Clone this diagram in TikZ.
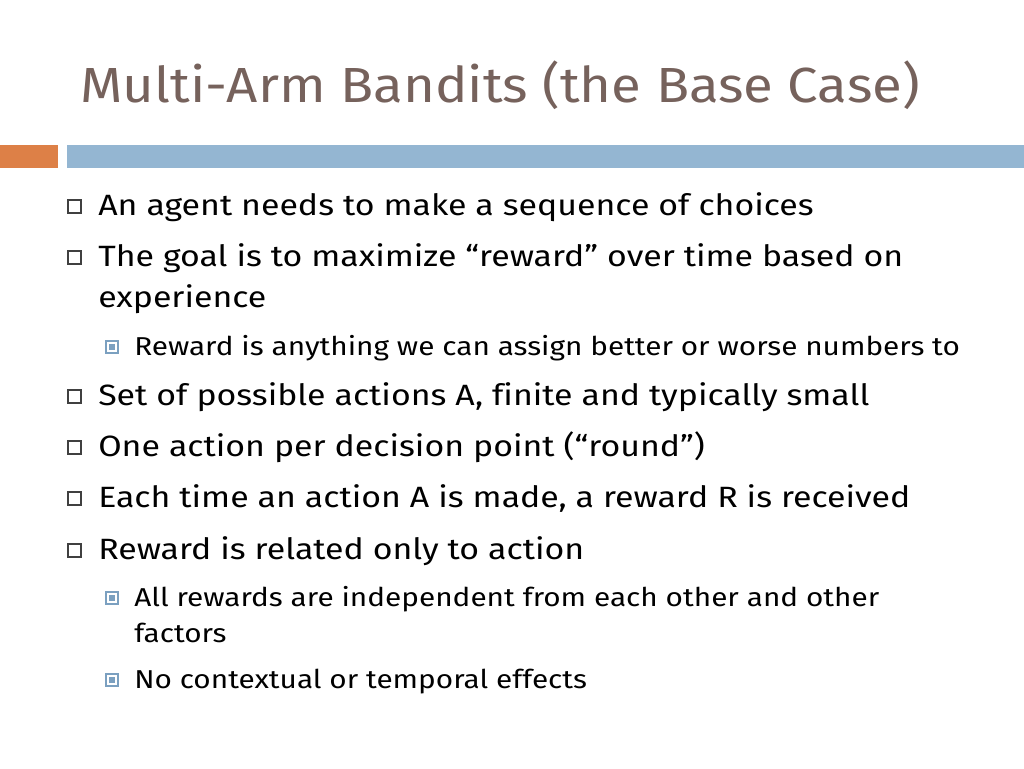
\documentclass[tikz,border=0pt]{standalone}
\usepackage{fontspec}
\setmainfont[Ligatures=NoCommon]{Fira Sans}
\newfontfamily\bodyf[Ligatures=NoCommon,FakeStretch=1.155]{Fira Sans}
\newfontfamily\subf[Ligatures=NoCommon,FakeStretch=1.15]{Fira Sans}
\newfontfamily\titlef[Ligatures=NoCommon,FakeStretch=1.105]{Fira Sans}
\definecolor{titlec}{HTML}{76625C}
\definecolor{orangec}{HTML}{DD8047}
\definecolor{bluec}{HTML}{94B6D2}
\definecolor{subc}{HTML}{7BA0C0}
\begin{document}
\begin{tikzpicture}[x=0.75pt,y=-0.75pt,
  lvl1/.style={anchor=base west,inner sep=0,font=\bodyf\fontsize{22}{28}\selectfont},
  lvl2/.style={anchor=base west,inner sep=0,font=\subf\fontsize{19.4}{24}\selectfont},
  box1/.style={draw=black!75,line width=0.8pt,fill=white},
  box2/.style={draw=subc,line width=1.6pt,fill=white}]
\useasboundingbox (0,0) rectangle (1024,768);
\fill[white] (0,0) rectangle (1024,768);
\node[anchor=base west,inner sep=0,text=titlec,font=\titlef\fontsize{37}{44}\selectfont] (title) at (80,102) {Multi-Arm Bandits (the Base Case)};
\fill[orangec] (0,145) rectangle (58,168);
\fill[bluec] (67,145) rectangle (1024,168);
\newcommand\bone[2]{\draw[box1] (68,#1-15) rectangle (81,#1-2); \node[lvl1] at (98,#1) {#2};}
\newcommand\btwo[2]{\draw[box2] (106,#1-14) rectangle (118,#1-2); \fill[subc] (109,#1-11) rectangle (115,#1-5); \node[lvl2] at (134,#1) {#2};}
\bone{215}{An agent needs to make a sequence of choices}
\bone{266}{The goal is to maximize “reward” over time based on}
\node[lvl1] (exp) at (98,307) {experience};
\btwo{355}{Reward is anything we can assign better or worse numbers to}
\bone{405}{Set of possible actions A, finite and typically small}
\bone{456}{One action per decision point (“round”)}
\bone{507}{Each time an action A is made, a reward R is received}
\bone{559}{Reward is related only to action}
\btwo{606}{All rewards are independent from each other and other}
\node[lvl2] (fac) at (134,642) {factors};
\btwo{688}{No contextual or temporal effects}
\end{tikzpicture}
\end{document}
